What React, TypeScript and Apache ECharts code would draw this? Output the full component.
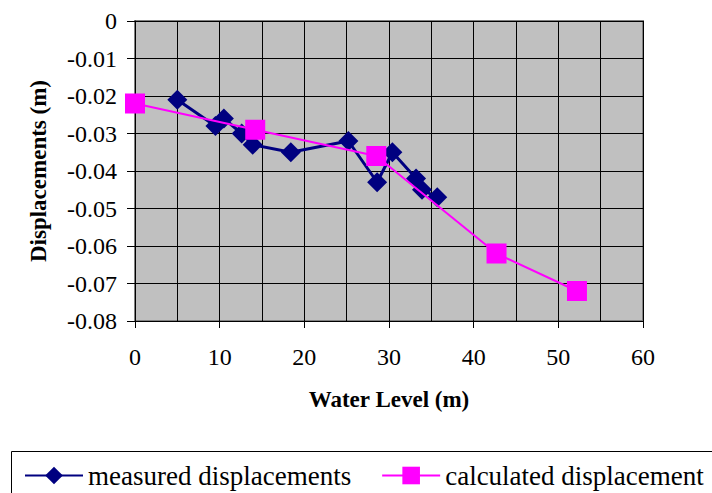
import React, { useEffect, useRef } from "react";
import * as echarts from "echarts";

const measuredX = [5, 9.5, 10.5, 12.6, 13.9, 18.4, 25.2, 28.6, 30.4, 33.2, 33.9, 35.7];
const measuredY = [-0.021, -0.028, -0.026, -0.03, -0.033, -0.035, -0.032, -0.043, -0.035, -0.042, -0.045, -0.047];
const calculatedX = [0, 14.2, 28.5, 42.7, 52.2];
const calculatedY = [-0.022, -0.029, -0.036, -0.062, -0.072];
const seriesNames = ["measured displacements", "calculated displacement"];
const xAxisName = "Water Level (m)";
const yAxisName = "Displacements (m)";

const FONT = "'Liberation Serif', 'Times New Roman', serif";

export default function App() {
  const ref = useRef<HTMLDivElement>(null);
  useEffect(() => {
    if (!ref.current) return;
    const chart = echarts.init(ref.current, undefined, { renderer: "svg" });
    chart.setOption({
      animation: false,
      textStyle: { fontFamily: FONT },
      grid: {
        left: 135,
        top: 21,
        right: 69,
        bottom: 172,
        show: true,
        backgroundColor: "#C0C0C0",
        borderColor: "#808080",
        borderWidth: 2,
      },
      xAxis: {
        type: "value",
        min: 0,
        max: 60,
        interval: 10,
        name: xAxisName,
        nameLocation: "middle",
        nameGap: 67,
        nameTextStyle: { fontFamily: FONT, fontSize: 23, fontWeight: "bold", color: "#000" },
        axisLine: { show: true, onZero: false, lineStyle: { color: "#000", width: 1 } },
        axisTick: { show: true, length: 7, lineStyle: { color: "#000" } },
        axisLabel: { fontFamily: FONT, fontSize: 24, color: "#000", margin: 24 },
        splitLine: { show: true, lineStyle: { color: "#000", width: 1 } },
        minorTick: { show: false, splitNumber: 2 },
        minorSplitLine: { show: true, lineStyle: { color: "#000", width: 1 } },
      },
      yAxis: {
        type: "value",
        min: -0.08,
        max: 0,
        interval: 0.01,
        name: yAxisName,
        nameLocation: "middle",
        nameGap: 85,
        nameTextStyle: { fontFamily: FONT, fontSize: 23, fontWeight: "bold", color: "#000" },
        axisLine: { show: true, lineStyle: { color: "#000", width: 1 } },
        axisTick: { show: true, length: 8, lineStyle: { color: "#000" } },
        axisLabel: {
          fontFamily: FONT,
          fontSize: 24,
          color: "#000",
          margin: 18,
          formatter: (v: number) => (Math.abs(v) < 1e-9 ? "0" : v.toFixed(2)),
        },
        splitLine: { show: true, lineStyle: { color: "#000", width: 1 } },
      },
      legend: {
        left: 24,
        top: 462,
        width: 690,
        padding: 0,
        itemWidth: 58,
        itemHeight: 22,
        itemGap: 30,
        textStyle: { fontFamily: FONT, fontSize: 27, color: "#000" },
        data: seriesNames,
      },
      graphic: [
        {
          type: "rect",
          shape: { x: 11.5, y: 451.5, width: 720, height: 60 },
          style: { fill: "none", stroke: "#000", lineWidth: 1 },
          z: -1,
        },
      ],
      series: [
        {
          name: seriesNames[0],
          type: "line",
          data: measuredX.map((x, i) => [x, measuredY[i]]),
          symbol: "diamond",
          symbolSize: 20,
          itemStyle: { color: "#000080" },
          lineStyle: { color: "#000080", width: 3 },
          z: 2,
        },
        {
          name: seriesNames[1],
          type: "line",
          data: calculatedX.map((x, i) => [x, calculatedY[i]]),
          symbol: "rect",
          symbolSize: 20,
          itemStyle: { color: "#FF00FF" },
          lineStyle: { color: "#FF00FF", width: 2 },
          z: 3,
        },
      ],
    });
    return () => chart.dispose();
  }, []);
  return <div ref={ref} style={{ width: 712, height: 493, position: "absolute", left: 0, top: 0 }} />;
}
